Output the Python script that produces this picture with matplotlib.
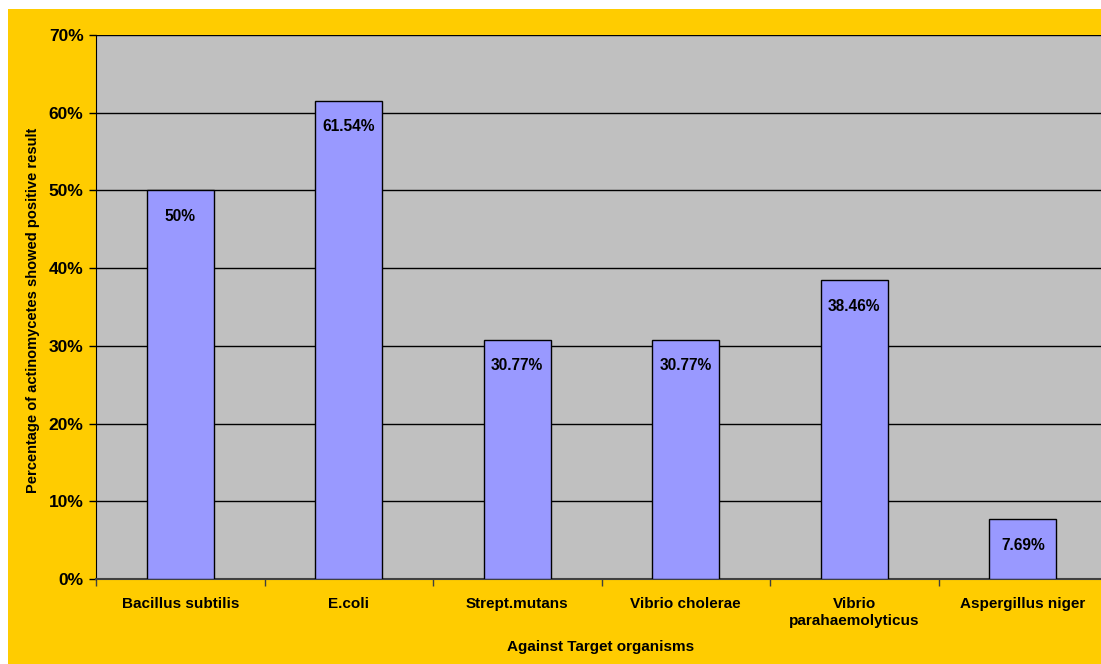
import matplotlib
matplotlib.use("Agg")
import matplotlib.pyplot as plt
from matplotlib.patches import Rectangle
from matplotlib.ticker import MultipleLocator, FuncFormatter

categories = ["Bacillus subtilis", "E.coli", "Strept.mutans", "Vibrio cholerae",
              "Vibrio\nparahaemolyticus", "Aspergillus niger"]
values = [50.0, 61.54, 30.77, 30.77, 38.46, 7.69]
labels = ["50%", "61.54%", "30.77%", "30.77%", "38.46%", "7.69%"]

plt.rcParams['font.family'] = ['Liberation Sans', 'DejaVu Sans']
plt.rcParams['font.weight'] = 'bold'

W, H = 1101, 664
fig = plt.figure(figsize=(W / 100, H / 100), dpi=100)
fig.patch.set_facecolor('white')
fig.patches.append(Rectangle((8 / W, 0), 1, 1 - 9 / H, transform=fig.transFigure,
                             facecolor='#FFCC00', edgecolor='none', zorder=-10))

left, right, top, bottom = 96, 1107, 35, 579
ax = fig.add_axes([left / W, 1 - bottom / H, (right - left) / W, (bottom - top) / H])
ax.set_facecolor('#C0C0C0')

x = list(range(len(categories)))
ax.bar(x, values, width=0.40, color='#9999FF', edgecolor='black', linewidth=1.0, zorder=3)
for xi, v, lab in zip(x, values, labels):
    ax.annotate(lab, (xi, v), xytext=(0, -26), textcoords='offset pixels',
                ha='center', va='center', fontsize=11.2, fontweight='bold', zorder=4)

ax.set_xlim(-0.5, len(categories) - 0.5)
ax.set_ylim(0, 70)
ax.yaxis.set_major_locator(MultipleLocator(10))
ax.yaxis.set_major_formatter(FuncFormatter(lambda v, p: f"{int(v)}%"))
ax.grid(axis='y', color='black', linewidth=1.0, zorder=1)
ax.set_axisbelow(True)

ax.set_xticks(x)
ax.set_xticklabels(categories, fontsize=11, fontweight='bold', linespacing=1.25)
ax.set_xticks([i - 0.5 for i in range(len(categories) + 1)], minor=True)
ax.tick_params(axis='x', which='major', length=0, pad=13)
ax.tick_params(axis='x', which='minor', length=5, width=1, color='#404040')
ax.tick_params(axis='y', length=5, width=1, labelsize=12.5, pad=4)
for t in ax.get_yticklabels():
    t.set_fontweight('bold')

for s in ['top', 'right']:
    ax.spines[s].set_visible(False)
ax.spines['left'].set_color('black')
ax.spines['bottom'].set_color('#404040')
ax.spines['bottom'].set_linewidth(1.5)

fig.text(33 / W, 1 - 310 / H, "Percentage of actinomycetes showed positive result",
         rotation=90, ha='center', va='center', fontsize=10.5, fontweight='bold')
fig.text(601 / W, 1 - 647 / H, "Against Target organisms",
         ha='center', va='center', fontsize=11, fontweight='bold')

fig.savefig("out.png", dpi=100, facecolor=fig.get_facecolor())
